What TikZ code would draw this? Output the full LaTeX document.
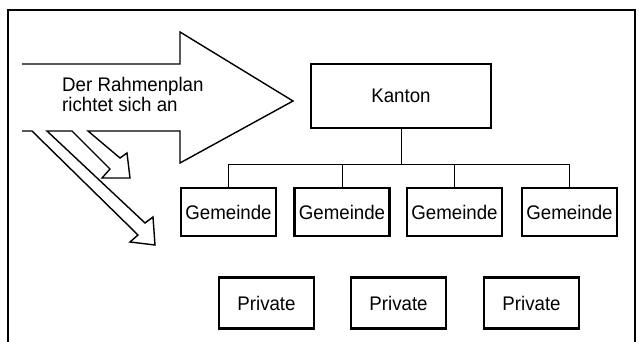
\documentclass[tikz,border=0pt]{standalone}
\usepackage{fontspec}
\setmainfont[FakeStretch=0.95]{Liberation Sans}
\usepackage{tikz}
\usetikzlibrary{positioning,calc}

\begin{document}
\begin{tikzpicture}[
  x=0.03cm, y=-0.03cm,
  every node/.style={font=\fontsize{16.8pt}{17.1pt}\selectfont},
  box/.style={draw, line width=1.8pt, fill=white, inner sep=0pt},
  link/.style={line width=0.7pt},
  blockarrow/.style={line width=1.2pt, line join=miter}
]
\useasboundingbox (0,0) rectangle (643,342);
% frame, open at the bottom
\draw[line width=1pt] (8,342) -- (8,10) -- (635,10) -- (635,342);

% big arrow with the two small ones below
\draw[blockarrow] (22,64) -- (180,64) -- (180,32) -- (293,101) -- (180,163) -- (180,131)
  -- (88,131) -- (120,158) -- (127,153) -- (130,178) -- (102,178) -- (110,169) -- (72,131)
  -- (47,131) -- (145,223) -- (153,217) -- (155,245) -- (130,242) -- (138,235) -- (32,131)
  -- (22,131);
\node[anchor=north west, align=left, inner sep=0pt] (plan) at (62,77.4) {Der Rahmenplan\\richtet sich an};

\node[box, minimum width=5.4cm, minimum height=1.93cm] (kanton) at (401,96) {Kanton};

\node[box, minimum width=2.85cm, minimum height=1.45cm] (g1) at (228.5,212) {Gemeinde};
\node[box, minimum width=2.85cm, minimum height=1.45cm] (g2) at (342,212) {Gemeinde};
\node[box, minimum width=2.85cm, minimum height=1.45cm] (g3) at (454.5,212) {Gemeinde};
\node[box, minimum width=2.85cm, minimum height=1.45cm] (g4) at (569.5,212) {Gemeinde};

\node[box, minimum width=2.85cm, minimum height=1.53cm] (p1) at (266.5,303) {Private};
\node[box, minimum width=2.85cm, minimum height=1.53cm] (p2) at (398.5,303) {Private};
\node[box, minimum width=2.85cm, minimum height=1.53cm] (p3) at (531.5,303) {Private};

\coordinate (bus) at (401,164);
\draw[link] (kanton.south) -- (bus);
\draw[link] (g1.north) |- (bus);
\draw[link] (g2.north) |- (bus);
\draw[link] (g3.north) |- (bus);
\draw[link] (g4.north) |- (bus);
\end{tikzpicture}
\end{document}
